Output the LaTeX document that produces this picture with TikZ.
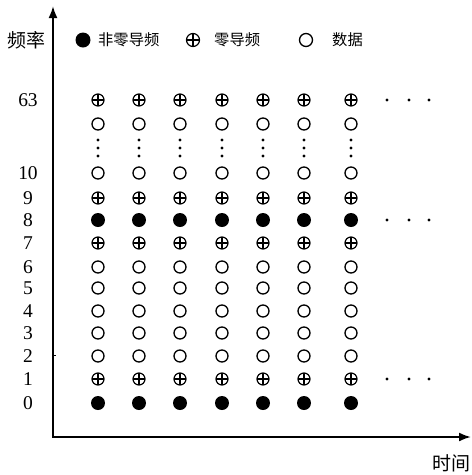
\documentclass[tikz,border=0pt]{standalone}
\usepackage{fontspec}
\setmainfont{Liberation Serif}
\newfontfamily\cjk{Noto Sans CJK SC}
\usetikzlibrary{arrows.meta}
\begin{document}
\begin{tikzpicture}[x=1pt,y=-1pt,
  axis/.style={line width=2pt,-{Latex[length=12pt,width=9pt]}},
  datac/.style={circle,draw,line width=1.3pt,minimum size=12pt,inner sep=0pt},
  pilot/.style={circle,fill,minimum size=14pt,inner sep=0pt},
  zpilot/.style={circle,draw,line width=1.2pt,minimum size=12pt,inner sep=0pt,
    path picture={\draw[line width=1.2pt] (path picture bounding box.north) -- (path picture bounding box.south)
      (path picture bounding box.west) -- (path picture bounding box.east);}},
  smalldot/.style={circle,fill,minimum size=3.2pt,inner sep=0pt},
  numlab/.style={font=\fontsize{19.5}{20}\selectfont,inner sep=0pt},
  leg/.style={font=\cjk\fontsize{15.3}{16}\selectfont,anchor=west,inner sep=0pt},
  axlab/.style={font=\cjk\fontsize{19}{20}\selectfont,inner sep=0pt}
]
\useasboundingbox (0,0) rectangle (472,475);
% axes
\coordinate (O) at (53,437);
\coordinate (ytop) at (53,6);
\coordinate (xend) at (471,437);
\draw[axis] (O) -- (ytop);
\draw[axis] ([xshift=-1pt]O) -- (xend);
\coordinate (t1) at (53,355);
\coordinate (t2) at (56,355);
\draw[line width=0.8pt] (t1) -- (t2);
\node[axlab] (freq) at (27,40) {频率};
\node[axlab] (time) at (451,463) {时间};
% legend
\node[pilot,minimum size=15pt] (l1) at (83,40) {};
\node[leg] (l1t) at (98,40) {非零导频};
\node[zpilot,minimum size=13pt] (l2) at (193,40) {};
\node[leg] (l2t) at (214,40) {零导频};
\node[datac,minimum size=13pt] (l3) at (306,40) {};
\node[leg] (l3t) at (332,40) {数据};
% grid
\foreach \x [count=\j] in {98,139,180,222,263,304,351} {
  \node[zpilot] (r63-\j) at (\x,100) {};
  \node[datac] (rtop-\j) at (\x,124) {};
  \node[smalldot] (v1-\j) at (\x,140) {};
  \node[smalldot] (v2-\j) at (\x,148) {};
  \node[smalldot] (v3-\j) at (\x,156) {};
  \node[datac] (r10-\j) at (\x,173) {};
  \node[zpilot] (r9-\j) at (\x,198) {};
  \node[pilot] (r8-\j) at (\x,220) {};
  \node[zpilot] (r7-\j) at (\x,243) {};
  \foreach \y/\n in {267/6,288/5,311/4,333/3,356/2} {
    \node[datac] (r\n-\j) at (\x,\y) {};
  }
  \node[zpilot] (r1-\j) at (\x,379) {};
  \node[pilot] (r0-\j) at (\x,403) {};
}
% row labels
\foreach \y/\n in {100/63,173/10,198/9,220/8,243/7,267/6,288/5,311/4,333/3,356/2,379/1,403/0} {
  \node[numlab] (lab\n) at (28,\y) {\n};
}
% horizontal ellipses
\foreach \y/\n in {100/a,220/b,379/c} {
  \foreach \x [count=\k] in {387,409,429} {
    \node[smalldot] (h\n\k) at (\x,\y) {};
  }
}
\end{tikzpicture}
\end{document}
